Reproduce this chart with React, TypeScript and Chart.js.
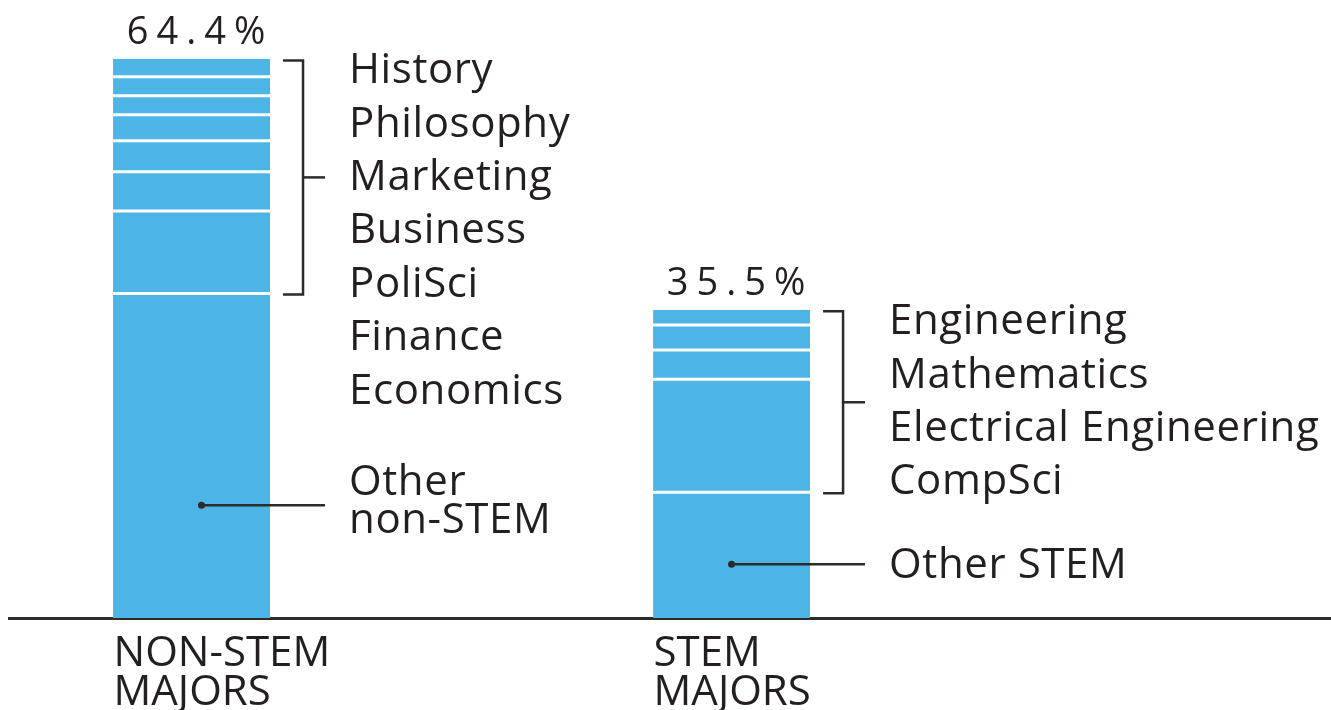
import React, { useEffect, useRef } from 'react';
import { Chart, registerables } from 'chart.js';

Chart.register(...registerables);

// ---- data ----
const categories = [['NON-STEM', 'MAJORS'], ['STEM', 'MAJORS']];
const barTotals = [64.4, 35.5];
// segments listed bottom → top
const nonStemMajors = ['Other non-STEM', 'Economics', 'Finance', 'PoliSci', 'Business', 'Marketing', 'Philosophy', 'History'];
const nonStemShares = [37.4, 9.5, 4.5, 3.57, 3.0, 2.2, 2.2, 2.04];
const stemMajors = ['Other STEM', 'CompSci', 'Electrical Engineering', 'Mathematics', 'Engineering'];
const stemShares = [14.5, 13.0, 3.38, 2.89, 1.73];
const otherLabels = [['Other', 'non-STEM'], ['Other STEM']];

// ---- style ----
const BAR_COLOR = 'rgb(77,180,230)';
const TEXT = '#231f20';
const LINE = '#2b2b2b';
const BAR_W = 157;
const FONT = '"Open Sans"';
const leaderValues = [13.0, 6.2];
const leaderDotOffsets = [10, 0];

const groups = [
  { names: nonStemMajors, values: nonStemShares },
  { names: stemMajors, values: stemShares },
];

const annotate = {
  id: 'annotate',
  afterDraw(chart: any) {
    const { ctx, scales } = chart;
    const x = scales.x;
    const y = scales.y;
    groups.forEach((g, i) => {
      const cx = x.getPixelForValue(i + 1);
      const right = cx + BAR_W / 2;
      const total = g.values.reduce((a, b) => a + b, 0);
      const topPx = y.getPixelForValue(total);
      const otherTop = y.getPixelForValue(g.values[0]);

      ctx.save();
      // total label
      ctx.fillStyle = TEXT;
      ctx.font = '38px ' + FONT;
      (ctx as any).letterSpacing = '8px';
      ctx.textAlign = 'center';
      ctx.textBaseline = 'alphabetic';
      ctx.fillText(barTotals[i].toFixed(1) + '%', cx + 8.5, topPx - 15);

      // bracket
      const xv = right + 33;
      const y1 = topPx + 1.5;
      const y2 = otherTop + 1;
      ctx.strokeStyle = LINE;
      ctx.lineWidth = 2.5;
      ctx.beginPath();
      ctx.moveTo(xv - 20, y1);
      ctx.lineTo(xv, y1);
      ctx.lineTo(xv, y2);
      ctx.lineTo(xv - 20, y2);
      ctx.stroke();
      const mid = (y1 + y2) / 2;
      ctx.beginPath();
      ctx.moveTo(xv, mid);
      ctx.lineTo(xv + 22, mid);
      ctx.stroke();

      // names list (top → bottom)
      ctx.font = '42px ' + FONT;
      (ctx as any).letterSpacing = '0.6px';
      ctx.textAlign = 'left';
      const names = g.names.slice(1).reverse();
      names.forEach((n, k) => {
        ctx.fillText(n, right + 79, topPx + 24.3 + k * 53.4);
      });

      // "other" leader
      const ly = y.getPixelForValue(leaderValues[i]);
      const dx = cx + leaderDotOffsets[i];
      ctx.beginPath();
      ctx.arc(dx, ly, 3.5, 0, Math.PI * 2);
      ctx.fillStyle = LINE;
      ctx.fill();
      ctx.beginPath();
      ctx.moveTo(dx, ly);
      ctx.lineTo(right + 55, ly);
      ctx.lineWidth = 2.5;
      ctx.stroke();
      ctx.fillStyle = TEXT;
      const lines = otherLabels[i];
      const first = ly + 14.3 - (lines.length - 1) * 24.3;
      lines.forEach((t, k) => ctx.fillText(t, right + 79, first + k * 38.3));
      ctx.restore();
    });
  },
};

export default function App() {
  const ref = useRef<HTMLCanvasElement | null>(null);
  useEffect(() => {
    document.body.style.margin = '0';
    const canvas = ref.current;
    if (!canvas) return;
    const levels = Math.max(nonStemShares.length, stemShares.length);
    const datasets: any[] = [];
    for (let k = 0; k < levels; k++) {
      const data: any[] = [];
      if (k < nonStemShares.length) data.push({ x: 1, y: nonStemShares[k] });
      if (k < stemShares.length) data.push({ x: 2, y: stemShares[k] });
      datasets.push({
        label: [nonStemMajors[k], stemMajors[k]].filter(Boolean).join(' / '),
        data,
        backgroundColor: BAR_COLOR,
        borderColor: '#ffffff',
        borderSkipped: false,
        inflateAmount: 0,
        barThickness: BAR_W,
        borderWidth: (c: any) => {
          const bar = c.raw ? c.raw.x : 1;
          const n = bar === 1 ? nonStemShares.length : stemShares.length;
          return { top: k < n - 1 ? 1.5 : 0, bottom: k > 0 ? 1.5 : 0, left: 0, right: 0 };
        },
      });
    }
    const chart = new Chart(canvas, {
      type: 'bar',
      data: { datasets },
      plugins: [annotate],
      options: {
        animation: false,
        responsive: false,
        maintainAspectRatio: false,
        layout: { padding: { left: 9, right: 0, top: 0, bottom: -19.5 } },
        plugins: { legend: { display: false }, tooltip: { enabled: false } },
        scales: {
          x: {
            type: 'linear',
            stacked: true,
            offset: false,
            bounds: 'data',
            min: 0.662,
            max: 3.11,
            grid: { display: false, drawTicks: false },
            border: { display: true, color: LINE, width: 3 },
            afterBuildTicks: (scale: any) => {
              scale.ticks = categories.map((_, i) => ({ value: i + 1 }));
            },
            ticks: {
              align: 'start',
              labelOffset: -78,
              padding: 16.25,
              maxRotation: 0,
              autoSkip: false,
              color: TEXT,
              font: { family: FONT, size: 42, lineHeight: '39.5px' },
              callback: (v: any) => categories[Math.round(Number(v)) - 1] as any,
            },
          },
          y: {
            stacked: true,
            display: false,
            min: 0,
            max: 71.2,
          },
        },
      } as any,
    });
    return () => chart.destroy();
  }, []);
  return (
    <div style={{ width: 1331, height: 710 }}>
      <canvas ref={ref} width={1331} height={710} style={{ display: 'block' }} />
    </div>
  );
}
